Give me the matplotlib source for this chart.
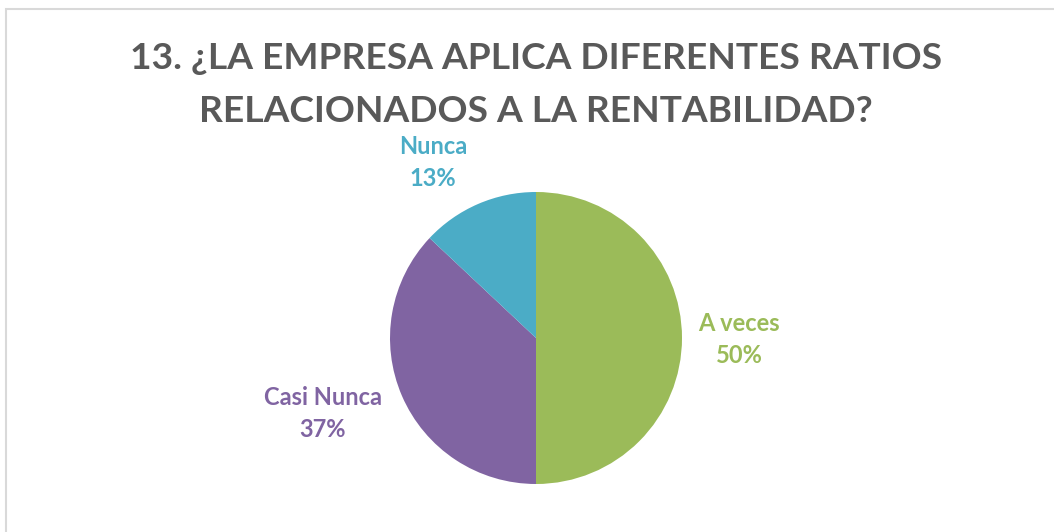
import matplotlib.pyplot as plt
from matplotlib.patches import Rectangle

categories = ["A veces", "Casi Nunca", "Nunca"]
values = [50, 37, 13]
colors = ["#9BBB59", "#8064A2", "#4BACC6"]
title_lines = ["13. ¿LA EMPRESA APLICA DIFERENTES RATIOS", "RELACIONADOS A LA RENTABILIDAD?"]

W, H = 1054, 532
fig = plt.figure(figsize=(W / 100, H / 100), dpi=100)
fig.patch.set_facecolor("white")

def fx(px):
    return px / W

def fy(py):
    return 1 - py / H

# border
fig.patches.append(Rectangle((fx(6), -0.01), 1.1, fy(9) + 0.01, transform=fig.transFigure,
                             fill=False, edgecolor="#D9D9D9", linewidth=1.5))

cx, cy, r = 536, 338, 146
ax = fig.add_axes([fx(cx - r), fy(cy + r), 2 * r / W, 2 * r / H])
wedges, _ = ax.pie(values, colors=colors, startangle=90, counterclock=False,
                   radius=1, wedgeprops=dict(linewidth=0))
ax.set_xlim(-1, 1)
ax.set_ylim(-1, 1)
ax.set_aspect("equal")
ax.axis("off")

# label anchor: (center x, baseline of first line) in pixels
label_pos = {"A veces": (739, 331), "Casi Nunca": (323, 405), "Nunca": (433, 154)}
for cat, val, col in zip(categories, values, colors):
    x, y = label_pos[cat]
    fig.text(fx(x), fy(y), cat, ha="center", va="baseline", color=col,
             fontsize=17, fontweight="bold", family="Lato")
    fig.text(fx(x), fy(y + 32), f"{val}%", ha="center", va="baseline", color=col,
             fontsize=17, fontweight="bold", family="Lato")

for line, base in zip(title_lines, [69, 122]):
    fig.text(fx(536), fy(base), line, ha="center", va="baseline", fontsize=26.7,
             fontweight="bold", color="#595959", family="Lato")

fig.savefig("out.png", dpi=100)
